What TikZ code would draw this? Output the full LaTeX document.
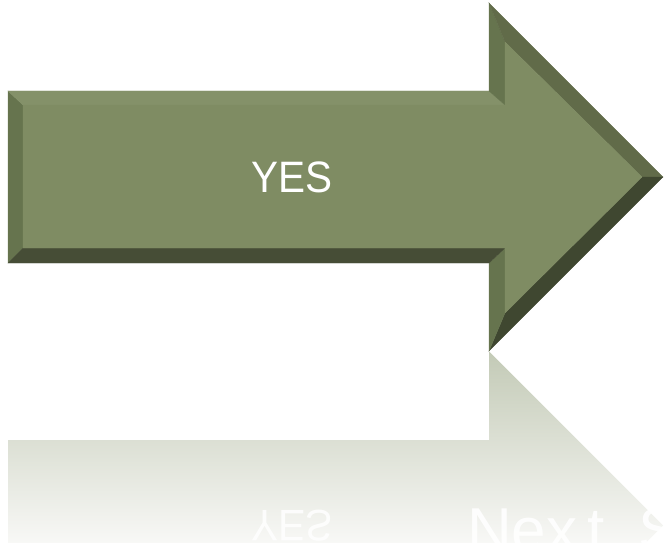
\documentclass[tikz,border=0pt]{standalone}
\usepackage{fontspec}
\setmainfont{Liberation Sans}
\definecolor{face}{RGB}{127,140,99}
\definecolor{bevL}{RGB}{102,116,78}
\definecolor{bevT}{RGB}{132,145,105}
\definecolor{bevUD}{RGB}{97,107,73}
\definecolor{bevLD}{RGB}{63,71,48}
\definecolor{bevB}{RGB}{70,77,54}
\definecolor{reftop}{RGB}{195,202,182}
\definecolor{refbot}{RGB}{248,248,246}
\tikzset{
  bevel/.style={line width=0.3pt, line join=miter},
  label/.style={text=white, inner sep=0pt, font=\fontsize{44}{50}\selectfont},
  reflabel/.style={text=white, inner sep=0pt, font=\fontsize{62}{68}\selectfont}
}
\begin{document}
\begin{tikzpicture}[x=1pt,y=-1pt]
\useasboundingbox (0,0) rectangle (667,543);
% outer points
\coordinate (A) at (8,91);
\coordinate (B) at (489,91);
\coordinate (C) at (489,3);
\coordinate (D) at (663,177);
\coordinate (E) at (489,351);
\coordinate (F) at (489,263);
\coordinate (G) at (8,263);
% inner points
\coordinate (a) at (23,105);
\coordinate (b) at (505,105);
\coordinate (c) at (505,42);
\coordinate (d) at (642,177);
\coordinate (e) at (505,313);
\coordinate (f) at (505,248);
\coordinate (g) at (23,248);
% reflection
\shade[top color=reftop, bottom color=refbot]
  (8,440) -- (489,440) -- (489,351.5) -- (663,525.5) -- (645.5,543) -- (8,543) -- cycle;
\node[label, yscale=-1, xscale=0.92, opacity=0.85] (yesref) at (291.5,525.5) {YES};
\node[reflabel, anchor=north west, opacity=0.9] (nextref) at (467,508) {Nex\kern10pt t\hspace{34pt}S};
% bevel faces
\fill[bevL, bevel, draw=bevL] (A) -- (a) -- (g) -- (G) -- cycle;
\fill[bevT, bevel, draw=bevT] (A) -- (B) -- (b) -- (a) -- cycle;
\fill[bevL, bevel, draw=bevL] (B) -- (C) -- (c) -- (b) -- cycle;
\fill[bevUD, bevel, draw=bevUD] (C) -- (D) -- (d) -- (c) -- cycle;
\fill[bevLD, bevel, draw=bevLD] (D) -- (E) -- (e) -- (d) -- cycle;
\fill[bevL, bevel, draw=bevL] (E) -- (F) -- (f) -- (e) -- cycle;
\fill[bevB, bevel, draw=bevB] (F) -- (G) -- (g) -- (f) -- cycle;
% face
\fill[face, bevel, draw=face] (a) -- (b) -- (c) -- (d) -- (e) -- (f) -- (g) -- cycle;
\node[label, xscale=0.92] (yes) at (291.5,177.5) {YES};
\end{tikzpicture}
\end{document}
